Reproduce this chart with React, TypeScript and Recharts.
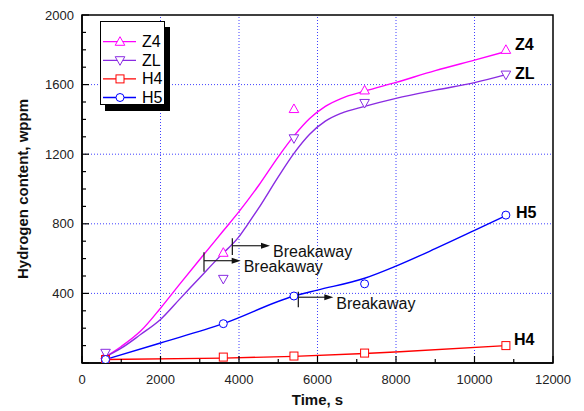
import React from "react";
import {
  ComposedChart,
  Line,
  Scatter,
  XAxis,
  YAxis,
  ReferenceLine,
  ReferenceArea,
  ReferenceDot,
} from "recharts";

// measured points (time in s, hydrogen in wppm)
const timeS = [600, 3600, 5400, 7200, 10800];
const z4Wppm = [45, 634, 1460, 1567, 1800];
const zlWppm = [58, 483, 1291, 1494, 1657];
const h4Wppm = [20, 34, 40, 57, 100];
const h5Wppm = [20, 226, 385, 455, 850];

// fitted curves
const z4FitTime = [600, 1000, 1500, 2000, 2500, 3000, 3600, 4000, 4500, 5000, 5400, 5800, 6200, 6600, 7200, 8000, 9000, 10000, 10800];
const z4FitWppm = [36, 95, 185, 315, 456, 595, 760, 870, 1020, 1185, 1305, 1405, 1475, 1520, 1562, 1613, 1680, 1741, 1790];
const zlFitTime = [600, 1000, 1500, 2000, 2500, 3000, 3500, 4000, 4200, 4500, 5000, 5400, 5800, 6200, 6600, 7200, 8000, 9000, 10000, 10800];
const zlFitWppm = [36, 85, 165, 250, 370, 490, 610, 726, 790, 890, 1070, 1205, 1315, 1390, 1435, 1475, 1521, 1568, 1611, 1657];
const h4FitTime = [600, 3600, 5400, 7200, 8100, 10800];
const h4FitWppm = [20, 28, 38, 55, 65, 100];
const h5FitTime = [600, 2000, 3600, 5400, 6000, 7200, 8000, 9000, 10000, 10800];
const h5FitWppm = [20, 115, 226, 385, 419, 487, 557, 657, 762, 847];

// axes
const xTicks = [0, 1000, 2000, 3000, 4000, 5000, 6000, 7000, 8000, 9000, 10000, 11000, 12000];
const yTicks = Array.from({ length: 21 }, (_, i) => i * 100);
const gridX = [2000, 4000, 6000, 8000, 10000];
const gridY = [400, 800, 1200, 1600];

// breakaway annotations: tick at x (yLo..yHi), arrow at y to xEnd
const breakaways = [
  { x: 3830, yLo: 621, yHi: 717, y: 674, xEnd: 4790 },
  { x: 3108, yLo: 525, yHi: 636, y: 588, xEnd: 4043 },
  { x: 5511, yLo: 320, yHi: 410, y: 378, xEnd: 6403 },
];

const FONT = "'Liberation Sans', Arial, Helvetica, sans-serif";
const C_Z4 = "#ff00ff";
const C_ZL = "#8a2be2";
const C_H4 = "#ff0000";
const C_H5 = "#0000ff";

const toPts = (xs: number[], ys: number[]) => xs.map((x, i) => ({ x, y: ys[i] }));

type MarkerKind = "up" | "down" | "square" | "circle";

function marker(kind: MarkerKind, cx: number, cy: number, color: string) {
  if (kind === "up")
    return (
      <polygon
        points={`${cx},${cy - 5} ${cx - 4.8},${cy + 3.6} ${cx + 4.8},${cy + 3.6}`}
        fill="#fff"
        stroke={color}
        strokeWidth={1}
      />
    );
  if (kind === "down")
    return (
      <polygon
        points={`${cx - 4.8},${cy - 3.6} ${cx + 4.8},${cy - 3.6} ${cx},${cy + 5}`}
        fill="#fff"
        stroke={color}
        strokeWidth={1}
      />
    );
  if (kind === "square")
    return <rect x={cx - 4} y={cy - 4} width={8} height={8} fill="#fff" stroke={color} strokeWidth={1} />;
  return <circle cx={cx} cy={cy} r={4} fill="#fff" stroke={color} strokeWidth={1} />;
}

const shapeOf = (kind: MarkerKind, color: string) => (p: any) => marker(kind, p.cx, p.cy, color);

const XTick = (props: any) => {
  const { x, y, payload } = props;
  const v = payload.value;
  const major = v % 2000 === 0;
  return (
    <g>
      <line x1={x} y1={y} x2={x} y2={y - (major ? 7 : 4)} stroke="#000" strokeWidth={1.2} />
      {major && (
        <text x={x} y={y + 20.5} textAnchor="middle" fontSize={13} fill="#222" fontFamily={FONT}>
          {v}
        </text>
      )}
    </g>
  );
};

const YTick = (props: any) => {
  const { x, y, payload } = props;
  const v = payload.value;
  const major = v % 400 === 0;
  return (
    <g>
      <line x1={x} y1={y} x2={x + (major ? 7 : 4)} y2={y} stroke="#000" strokeWidth={1.2} />
      {major && v > 0 && (
        <text x={x - 8} y={y + 4.6} textAnchor="end" fontSize={13} fill="#222" fontFamily={FONT}>
          {v}
        </text>
      )}
    </g>
  );
};

const endLabel = (text: string, dx: number, dy: number) => (p: any) => (
  <text
    x={p.cx + dx}
    y={p.cy + dy}
    fontSize={16}
    fontWeight="bold"
    fill="#000"
    fontFamily={FONT}
    dominantBaseline="central"
  >
    {text}
  </text>
);

const arrowShape = (p: any) => {
  const { x1, y1, x2, y2 } = p;
  return (
    <g>
      <line x1={x1} y1={y1} x2={x2 - 7} y2={y2} stroke="#222" strokeWidth={1.2} />
      <polygon points={`${x2},${y2} ${x2 - 9},${y2 - 3} ${x2 - 9},${y2 + 3}`} fill="#111" />
      <text x={x2 + 3} y={y2 + 6} fontSize={16} fill="#111" fontFamily={FONT} dominantBaseline="central">
        Breakaway
      </text>
    </g>
  );
};

const legendItems: { name: string; color: string; kind: MarkerKind }[] = [
  { name: "Z4", color: C_Z4, kind: "up" },
  { name: "ZL", color: C_ZL, kind: "down" },
  { name: "H4", color: C_H4, kind: "square" },
  { name: "H5", color: C_H5, kind: "circle" },
];

function LegendBox() {
  return (
    <svg width={72} height={92} style={{ position: "absolute", left: 100, top: 21 }}>
      <rect x={5} y={6} width={65} height={84} fill="#000" />
      <rect x={0.5} y={0.5} width={64} height={83} fill="#fff" stroke="#000" strokeWidth={1} />
      {legendItems.map((it, i) => {
        const cy = 20.7 + i * 18.6;
        return (
          <g key={it.name}>
            <line x1={3} y1={cy} x2={36} y2={cy} stroke={it.color} strokeWidth={1.3} />
            {marker(it.kind, 20, cy, it.color)}
            <text x={42} y={cy} fontSize={16} fill="#000" fontFamily={FONT} dominantBaseline="central">
              {it.name}
            </text>
          </g>
        );
      })}
    </svg>
  );
}

export default function App() {
  const last = timeS.length - 1;
  return (
    <div style={{ position: "absolute", left: 0, top: 0, width: 584, height: 411, background: "#fff" }}>
      <ComposedChart width={584} height={411} margin={{ top: 15, right: 31, bottom: 0, left: 0 }}>
        <XAxis
          type="number"
          dataKey="x"
          domain={[0, 12000]}
          ticks={xTicks}
          interval={0}
          tickSize={0}
          tickMargin={0}
          tickLine={false}
          tick={<XTick />}
          height={48}
          axisLine={{ stroke: "#000", strokeWidth: 1.5 }}
          allowDataOverflow
          label={{
            content: (p: any) => (
              <text
                x={p.viewBox.x + p.viewBox.width / 2}
                y={p.viewBox.y + 42}
                textAnchor="middle"
                fontSize={15}
                fontWeight="bold"
                fill="#111"
                fontFamily={FONT}
              >
                Time, s
              </text>
            ),
          }}
        />
        <YAxis
          type="number"
          dataKey="y"
          domain={[0, 2000]}
          ticks={yTicks}
          interval={0}
          tickSize={0}
          tickMargin={0}
          tickLine={false}
          tick={<YTick />}
          width={82}
          axisLine={{ stroke: "#000", strokeWidth: 1.5 }}
          allowDataOverflow
          label={{
            content: (p: any) => {
              const cx = p.viewBox.x + 22;
              const cy = p.viewBox.y + p.viewBox.height / 2;
              return (
                <text
                  x={cx}
                  y={cy}
                  transform={`rotate(-90 ${cx} ${cy})`}
                  textAnchor="middle"
                  dominantBaseline="central"
                  fontSize={15}
                  fontWeight="bold"
                  fill="#111"
                  fontFamily={FONT}
                >
                  Hydrogen content, wppm
                </text>
              );
            },
          }}
        />

        {gridX.map((v) => (
          <ReferenceLine key={`gx${v}`} x={v} stroke="#4040ff" strokeWidth={1} strokeDasharray="1 2" />
        ))}
        {gridY.map((v) => (
          <ReferenceLine key={`gy${v}`} y={v} stroke="#4040ff" strokeWidth={1} strokeDasharray="1 2" />
        ))}
        <ReferenceArea x1={0} x2={12000} y1={0} y2={2000} fill="none" stroke="#000" strokeWidth={1.5} />

        <Line data={toPts(z4FitTime, z4FitWppm)} dataKey="y" type="monotone" stroke={C_Z4} strokeWidth={1.4} dot={false} isAnimationActive={false} />
        <Line data={toPts(zlFitTime, zlFitWppm)} dataKey="y" type="monotone" stroke={C_ZL} strokeWidth={1.4} dot={false} isAnimationActive={false} />
        <Line data={toPts(h4FitTime, h4FitWppm)} dataKey="y" type="monotone" stroke={C_H4} strokeWidth={1.4} dot={false} isAnimationActive={false} />
        <Line data={toPts(h5FitTime, h5FitWppm)} dataKey="y" type="monotone" stroke={C_H5} strokeWidth={1.4} dot={false} isAnimationActive={false} />

        <Scatter data={toPts(timeS, z4Wppm)} shape={shapeOf("up", C_Z4)} isAnimationActive={false} />
        <Scatter data={toPts(timeS, zlWppm)} shape={shapeOf("down", C_ZL)} isAnimationActive={false} />
        <Scatter data={toPts(timeS, h4Wppm)} shape={shapeOf("square", C_H4)} isAnimationActive={false} />
        <Scatter data={toPts(timeS, h5Wppm)} shape={shapeOf("circle", C_H5)} isAnimationActive={false} />

        {breakaways.map((b, i) => (
          <ReferenceLine
            key={`bt${i}`}
            segment={[{ x: b.x, y: b.yLo }, { x: b.x, y: b.yHi }]}
            stroke="#111"
            strokeWidth={1.2}
          />
        ))}
        {breakaways.map((b, i) => (
          <ReferenceLine
            key={`ba${i}`}
            segment={[{ x: b.x, y: b.y }, { x: b.xEnd, y: b.y }]}
            shape={arrowShape}
          />
        ))}

        <ReferenceDot x={timeS[last]} y={z4Wppm[last]} r={0} shape={endLabel("Z4", 9, -5)} />
        <ReferenceDot x={timeS[last]} y={zlWppm[last]} r={0} shape={endLabel("ZL", 9, -1)} />
        <ReferenceDot x={timeS[last]} y={h5Wppm[last]} r={0} shape={endLabel("H5", 10, -3)} />
        <ReferenceDot x={timeS[last]} y={h4Wppm[last]} r={0} shape={endLabel("H4", 8, -6)} />
      </ComposedChart>
      <LegendBox />
    </div>
  );
}
